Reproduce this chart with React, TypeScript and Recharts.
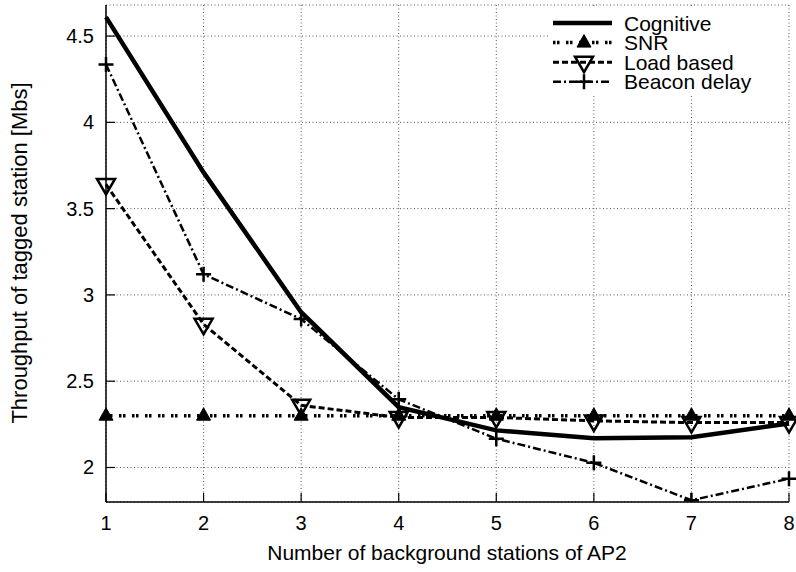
import React from 'react';
import { LineChart, Line, XAxis, YAxis, CartesianGrid } from 'recharts';

const stations = [1, 2, 3, 4, 5, 6, 7, 8];
const cognitive = [4.61, 3.71, 2.9, 2.35, 2.215, 2.17, 2.175, 2.255];
const snr = [2.3, 2.3, 2.3, 2.3, 2.3, 2.3, 2.3, 2.3];
const loadBased = [3.64, 2.83, 2.36, 2.29, 2.29, 2.27, 2.26, 2.26];
const beaconDelay = [4.335, 3.12, 2.86, 2.395, 2.167, 2.027, 1.81, 1.935];

const xTicks = [1, 2, 3, 4, 5, 6, 7, 8];
const yTicks = [2, 2.5, 3, 3.5, 4, 4.5];

const FONT = '"Liberation Sans", Arial, Helvetica, sans-serif';
const TICK = 9;

const data = stations.map((s, i) => ({
  x: s,
  cognitive: cognitive[i],
  snr: snr[i],
  load: loadBased[i],
  beacon: beaconDelay[i],
}));

// marker shapes (gnuplot-ish)
const TriUp = ({ cx, cy }: { cx: number; cy: number }) => (
  <path d={`M${cx},${cy - 8} L${cx + 7},${cy + 4.5} L${cx - 7},${cy + 4.5} Z`} fill="#000" stroke="#000" strokeWidth={1} />
);
const TriDown = ({ cx, cy }: { cx: number; cy: number }) => (
  <path d={`M${cx - 9},${cy - 5.5} L${cx + 9},${cy - 5.5} L${cx},${cy + 10} Z`} fill="none" stroke="#000" strokeWidth={2.5} strokeLinejoin="miter" />
);
const Plus = ({ cx, cy }: { cx: number; cy: number }) => (
  <path d={`M${cx - 7.5},${cy} L${cx + 7.5},${cy} M${cx},${cy - 7.5} L${cx},${cy + 7.5}`} stroke="#000" strokeWidth={2.5} fill="none" />
);

const BottomTick = (props: any) => {
  const { x, y, payload } = props;
  return (
    <g>
      <line x1={x} y1={y} x2={x} y2={y - TICK} stroke="#000" strokeWidth={1.2} />
      <text x={x} y={y + 28} textAnchor="middle" fontSize={20} fontFamily={FONT} fill="#000">
        {payload.value}
      </text>
    </g>
  );
};

const TopTick = (props: any) => {
  const { x, y } = props;
  return <line x1={x} y1={y} x2={x} y2={y + TICK} stroke="#000" strokeWidth={1.2} />;
};

const LeftTick = (props: any) => {
  const { x, y, payload } = props;
  return (
    <g>
      <line x1={x} y1={y} x2={x + TICK} y2={y} stroke="#000" strokeWidth={1.2} />
      <text x={x - 12} y={y + 7} textAnchor="end" fontSize={20} fontFamily={FONT} fill="#000">
        {payload.value}
      </text>
    </g>
  );
};

const RightTick = (props: any) => {
  const { x, y } = props;
  return <line x1={x} y1={y} x2={x - TICK} y2={y} stroke="#000" strokeWidth={1.2} />;
};

const legendItems = [
  { label: 'Cognitive', dash: undefined, width: 4.5, marker: null },
  { label: 'SNR', dash: '2.5 1.5 2.5 6.5', width: 3.5, marker: TriUp },
  { label: 'Load based', dash: '6 3', width: 3, marker: TriDown },
  { label: 'Beacon delay', dash: '8 3 2 3', width: 2.5, marker: Plus },
];

const ChartLegend = () => (
  <g>
    <rect x={548} y={7} width={238} height={88} fill="#fff" />
    {legendItems.map((it, i) => {
      const cy = 23 + i * 19.6;
      const M = it.marker;
      return (
        <g key={it.label}>
          <line x1={553} y1={cy} x2={612} y2={cy} stroke="#000" strokeWidth={it.width} strokeDasharray={it.dash} />
          {M ? <M cx={584} cy={cy} /> : null}
          <text x={624} y={cy + 7.5} fontSize={21} fontFamily={FONT} fill="#000">
            {it.label}
          </text>
        </g>
      );
    })}
  </g>
);

export default function App() {
  return (
    <div style={{ position: 'absolute', left: 0, top: 0, width: 796, height: 572, background: '#fff' }}>
      <LineChart width={796} height={572} data={data} margin={{ top: 5, right: 7, bottom: 0, left: 0 }}>
        <CartesianGrid stroke="#555" strokeDasharray="1 2.5" strokeWidth={1} />
        <ChartLegend />
        <XAxis
          dataKey="x"
          type="number"
          domain={[1, 8]}
          ticks={xTicks}
          interval={0}
          height={70}
          tickSize={0}
          tickMargin={0}
          tickLine={false}
          axisLine={{ stroke: '#000', strokeWidth: 1.5 }}
          tick={<BottomTick />}
        />
        <XAxis
          xAxisId="top"
          orientation="top"
          dataKey="x"
          type="number"
          domain={[1, 8]}
          ticks={xTicks}
          interval={0}
          height={0}
          tickSize={0}
          tickMargin={0}
          tickLine={false}
          axisLine={{ stroke: '#000', strokeWidth: 1.5 }}
          tick={<TopTick />}
        />
        <YAxis
          type="number"
          domain={[1.8, 4.68]}
          allowDataOverflow
          ticks={yTicks}
          interval={0}
          width={106}
          tickSize={0}
          tickMargin={0}
          tickLine={false}
          axisLine={{ stroke: '#000', strokeWidth: 1.5 }}
          tick={<LeftTick />}
        />
        <YAxis
          yAxisId="right"
          orientation="right"
          type="number"
          domain={[1.8, 4.68]}
          allowDataOverflow
          ticks={yTicks}
          interval={0}
          width={0}
          tickSize={0}
          tickMargin={0}
          tickLine={false}
          axisLine={{ stroke: '#000', strokeWidth: 1.5 }}
          tick={<RightTick />}
        />
        <Line
          dataKey="cognitive"
          stroke="#000"
          strokeWidth={4.5}
          dot={false}
          isAnimationActive={false}
        />
        <Line
          dataKey="snr"
          stroke="#000"
          strokeWidth={3.5}
          strokeDasharray="2.5 1.5 2.5 6.5"
          dot={(p: any) => <TriUp key={`s${p.index}`} cx={p.cx} cy={p.cy} />}
          isAnimationActive={false}
        />
        <Line
          dataKey="load"
          stroke="#000"
          strokeWidth={3}
          strokeDasharray="6 3"
          dot={(p: any) => <TriDown key={`l${p.index}`} cx={p.cx} cy={p.cy} />}
          isAnimationActive={false}
        />
        <Line
          dataKey="beacon"
          stroke="#000"
          strokeWidth={2.5}
          strokeDasharray="8 3 2 3"
          dot={(p: any) => <Plus key={`b${p.index}`} cx={p.cx} cy={p.cy} />}
          isAnimationActive={false}
        />
        <text x={447} y={560} textAnchor="middle" fontSize={21} fontFamily={FONT} fill="#000">
          Number of background stations of AP2
        </text>
        <text
          x={27}
          y={253}
          textAnchor="middle"
          fontSize={22}
          fontFamily={FONT}
          fill="#000"
          transform="rotate(-90 27 253)"
        >
          Throughput of tagged station [Mbs]
        </text>
      </LineChart>
    </div>
  );
}
